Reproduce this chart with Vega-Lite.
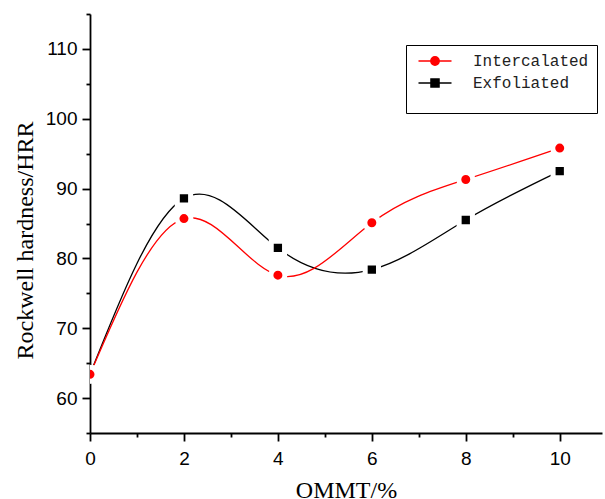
{
  "$schema": "https://vega.github.io/schema/vega-lite/v6.json",
  "width": 512,
  "height": 419,
  "autosize": {"type": "none"},
  "padding": {"left": 90, "top": 14, "right": 3, "bottom": 66},
  "background": "white",
  "config": {
    "view": {"stroke": null},
    "axis": {
      "domainColor": "black",
      "domainWidth": 1.8,
      "tickColor": "black",
      "tickWidth": 1.8,
      "labelFont": "Liberation Sans",
      "labelFontSize": 19,
      "labelColor": "black",
      "labelFlush": false,
      "labelOverlap": false,
      "titleFont": "Liberation Serif",
      "titleFontSize": 24,
      "titleFontWeight": "normal",
      "titleColor": "black",
      "grid": false,
      "zindex": 1
    }
  },
  "data": {
    "values": [
      {"series": "Exfoliated", "x": 0, "y": 63.4},
      {"series": "Exfoliated", "x": 2, "y": 88.6},
      {"series": "Exfoliated", "x": 4, "y": 81.5},
      {"series": "Exfoliated", "x": 6, "y": 78.4},
      {"series": "Exfoliated", "x": 8, "y": 85.5},
      {"series": "Exfoliated", "x": 10, "y": 92.5},
      {"series": "Intercalated", "x": 0, "y": 63.4},
      {"series": "Intercalated", "x": 2, "y": 85.7},
      {"series": "Intercalated", "x": 4, "y": 77.6},
      {"series": "Intercalated", "x": 6, "y": 85.1},
      {"series": "Intercalated", "x": 8, "y": 91.3},
      {"series": "Intercalated", "x": 10, "y": 95.8}
    ]
  },
  "layer": [
    {
      "mark": {"type": "line", "interpolate": "natural", "strokeWidth": 1.3, "clip": true},
      "encoding": {
        "x": {
          "field": "x", "type": "quantitative",
          "scale": {"domain": [0, 10.9], "nice": false, "zero": false},
          "axis": {"orient": "bottom", "values": [0, 2, 4, 6, 8, 10], "tickSize": 8, "labelPadding": 8, "title": "OMMT/%", "titlePadding": 10}
        },
        "y": {
          "field": "y", "type": "quantitative",
          "scale": {"domain": [55, 115], "nice": false, "zero": false},
          "axis": {"orient": "left", "values": [60, 70, 80, 90, 100, 110], "tickSize": 8, "labelPadding": 5, "title": "Rockwell hardness/HRR", "titlePadding": 8, "titleY": 226}
        },
        "color": {
          "field": "series", "type": "nominal",
          "scale": {"domain": ["Intercalated", "Exfoliated"], "range": ["#ff0000", "#000000"]},
          "legend": {
            "orient": "none",
            "legendX": 316,
            "legendY": 31,
            "title": " ",
            "titleOrient": "bottom",
            "titleFontSize": 10,
            "titlePadding": 4,
            "strokeColor": "black",
            "fillColor": "white",
            "padding": 8,
            "rowPadding": 6,
            "labelFont": "Liberation Mono",
            "labelFontSize": 16,
            "labelColor": "#222222",
            "symbolSize": 100,
            "symbolOffset": 13,
            "labelOffset": 30,
            "symbolStrokeWidth": 1.3,
            "encode": {
              "symbols": {
                "update": {
                  "shape": {"signal": "datum.value === 'Intercalated' ? 'M-3.3,0H3.3M0.85,0A0.85,0.85,0,1,1,-0.85,0A0.85,0.85,0,1,1,0.85,0Z' : 'M-3.3,0H3.3M-0.82,-0.82H0.82V0.82H-0.82Z'"},
                  "fill": {"signal": "datum.value === 'Intercalated' ? '#ff0000' : '#000000'"},
                  "stroke": {"signal": "datum.value === 'Intercalated' ? '#ff0000' : '#000000'"},
                  "opacity": {"value": 1},
                  "fillOpacity": {"value": 1},
                  "strokeOpacity": {"value": 1}
                }
              }
            }
          }
        }
      }
    },
    {
      "transform": [{"filter": "datum.series === 'Exfoliated'"}],
      "mark": {"type": "point", "shape": "square", "filled": true, "clip": true, "color": "#000000", "stroke": "white", "strokeWidth": 5, "strokeOpacity": 1, "opacity": 1, "size": 177},
      "encoding": {
        "x": {
          "field": "x", "type": "quantitative",
          "axis": {"orient": "bottom", "values": [1, 3, 5, 7, 9], "tickSize": 4, "labels": false, "domain": false, "title": null}
        },
        "y": {
          "field": "y", "type": "quantitative",
          "axis": {"orient": "left", "values": [55, 65, 75, 85, 95, 105, 115], "tickSize": 4, "labels": false, "domain": false, "title": null}
        }
      }
    },
    {
      "transform": [{"filter": "datum.series === 'Intercalated'"}],
      "mark": {"type": "point", "shape": "circle", "filled": true, "clip": true, "color": "#ff0000", "stroke": "white", "strokeWidth": 5, "strokeOpacity": 1, "opacity": 1, "size": 196},
      "encoding": {
        "x": {"field": "x", "type": "quantitative", "axis": null},
        "y": {"field": "y", "type": "quantitative", "axis": null}
      }
    }
  ],
  "resolve": {"axis": {"x": "independent", "y": "independent"}}
}
